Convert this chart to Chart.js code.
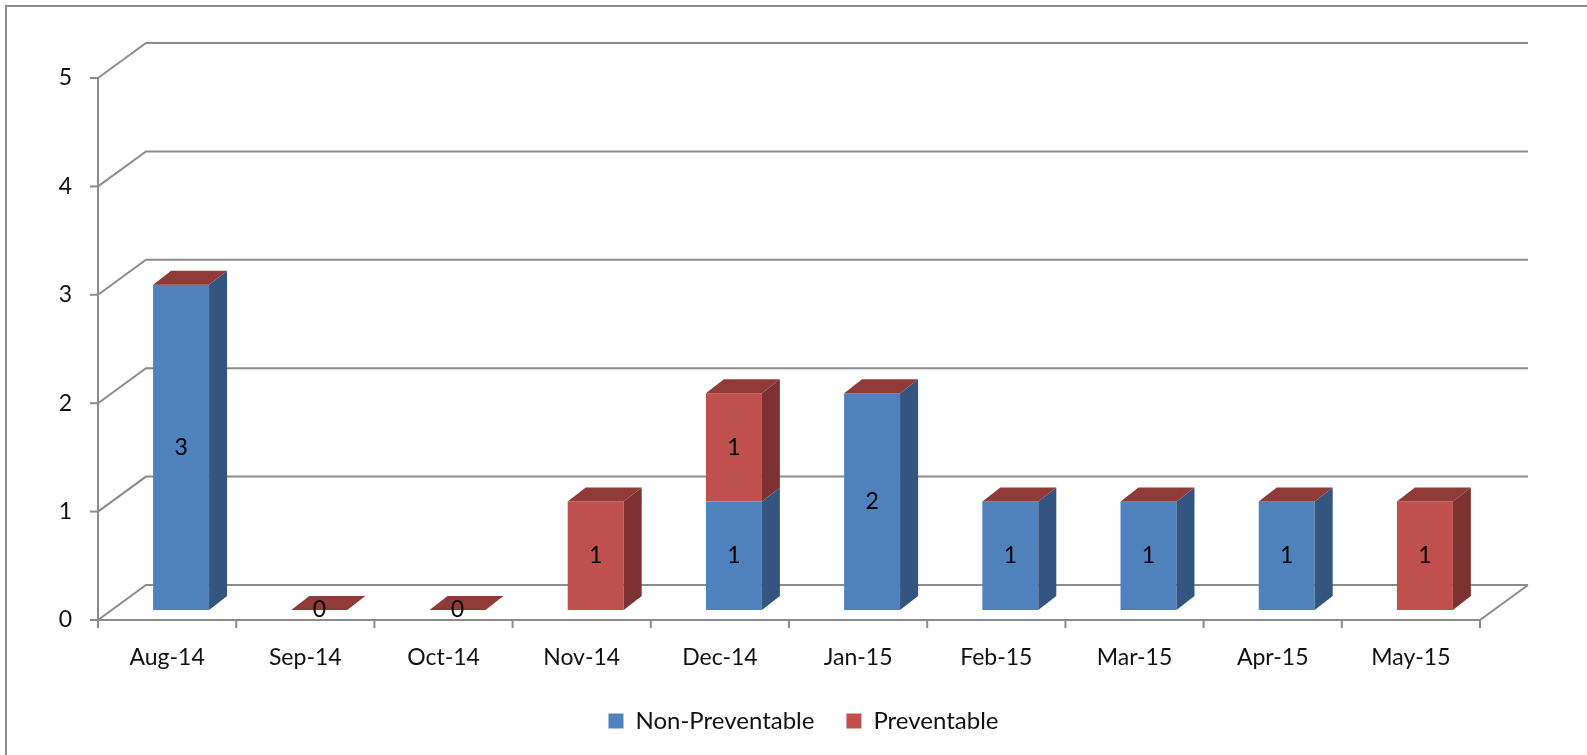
<!DOCTYPE html>
<html>
<head>
<meta charset="utf-8">
<script src="https://cdn.jsdelivr.net/npm/chart.js@4.4.1/dist/chart.umd.min.js"></script>
<style>
  html, body { margin: 0; padding: 0; background: #fff; }
  #wrap { width: 1587px; height: 755px; position: relative; }
</style>
</head>
<body>
<div id="wrap"><canvas id="chart"></canvas></div>
<script>
// categories + series
const months = ['Aug-14', 'Sep-14', 'Oct-14', 'Nov-14', 'Dec-14', 'Jan-15', 'Feb-15', 'Mar-15', 'Apr-15', 'May-15'];
const nonPreventable = [3, 0, 0, 0, 1, 2, 1, 1, 1, 0];
const preventable = [0, 0, 0, 1, 1, 0, 0, 0, 0, 1];
const yTicks = [0, 1, 2, 3, 4, 5];

const FONT = "Lato, 'Open Sans', sans-serif";
Chart.defaults.font.family = FONT;
Chart.defaults.color = '#111';

// depth offsets relative to the bar front plane
const FRONT = { dx: -14, dy: 10 };   // floor front edge / axis plane
const WALL = { dx: 34, dy: -25 };    // back wall
const BAR_DEPTH = { dx: 18, dy: -14 };
const GRID = '#8c8c8c';

const sideColors = ['#34557f', '#7d3130'];
const topColors = ['#5f86bb', '#913b38'];

const threeD = {
  id: 'threeD',
  beforeDraw(chart) {
    const ctx = chart.ctx;
    ctx.save();
    ctx.strokeStyle = GRID;
    ctx.lineWidth = 2;
    ctx.strokeRect(6, 6, chart.width + 20, chart.height + 20);
    ctx.restore();
  },
  beforeDatasetsDraw(chart) {
    const ctx = chart.ctx;
    const x = chart.scales.x, y = chart.scales.y;
    const left = x.left, right = x.right;
    ctx.save();
    ctx.strokeStyle = GRID;
    ctx.lineWidth = 2;
    // back wall + left wall gridlines
    yTicks.forEach(v => {
      const py = y.getPixelForValue(v);
      ctx.beginPath();
      ctx.moveTo(left + FRONT.dx, py + FRONT.dy);
      ctx.lineTo(left + WALL.dx, py + WALL.dy);
      ctx.lineTo(right + WALL.dx, py + WALL.dy);
      ctx.stroke();
      // tick mark on the front axis
      ctx.beginPath();
      ctx.moveTo(left + FRONT.dx - 8, py + FRONT.dy);
      ctx.lineTo(left + FRONT.dx, py + FRONT.dy);
      ctx.stroke();
    });
    // front vertical axis
    ctx.beginPath();
    ctx.moveTo(left + FRONT.dx, y.getPixelForValue(5) + FRONT.dy);
    ctx.lineTo(left + FRONT.dx, y.getPixelForValue(0) + FRONT.dy);
    ctx.stroke();
    // floor front edge and right edge
    const by = y.getPixelForValue(0);
    ctx.beginPath();
    ctx.moveTo(left + FRONT.dx, by + FRONT.dy);
    ctx.lineTo(right + FRONT.dx, by + FRONT.dy);
    ctx.lineTo(right + WALL.dx, by + WALL.dy);
    ctx.stroke();
    // category tick marks
    const step = (right - left) / months.length;
    for (let i = 0; i <= months.length; i++) {
      const px = left + step * i + FRONT.dx;
      ctx.beginPath();
      ctx.moveTo(px, by + FRONT.dy);
      ctx.lineTo(px, by + FRONT.dy + 8);
      ctx.stroke();
    }
    ctx.restore();
  },
  afterDatasetsDraw(chart) {
    const ctx = chart.ctx;
    const n = chart.data.datasets.length;
    ctx.save();
    // side faces, then the top face of the stack
    for (let i = 0; i < months.length; i++) {
      chart.data.datasets.forEach((ds, d) => {
        const bar = chart.getDatasetMeta(d).data[i];
        const l = bar.x - bar.width / 2, r = bar.x + bar.width / 2;
        const top = Math.min(bar.y, bar.base), base = Math.max(bar.y, bar.base);
        if (base - top > 0.5) {
          ctx.fillStyle = sideColors[d];
          ctx.beginPath();
          ctx.moveTo(r, base);
          ctx.lineTo(r + BAR_DEPTH.dx, base + BAR_DEPTH.dy);
          ctx.lineTo(r + BAR_DEPTH.dx, top + BAR_DEPTH.dy);
          ctx.lineTo(r, top);
          ctx.closePath();
          ctx.fill();
        }
        if (d === n - 1) {
          ctx.fillStyle = topColors[d];
          ctx.beginPath();
          ctx.moveTo(l, top);
          ctx.lineTo(l + BAR_DEPTH.dx, top + BAR_DEPTH.dy);
          ctx.lineTo(r + BAR_DEPTH.dx, top + BAR_DEPTH.dy);
          ctx.lineTo(r, top);
          ctx.closePath();
          ctx.fill();
        }
      });
    }
    // data labels (zeros only where the whole column is empty)
    ctx.fillStyle = '#000';
    ctx.font = '23px ' + FONT;
    ctx.textAlign = 'center';
    ctx.textBaseline = 'middle';
    chart.data.datasets.forEach((ds, d) => {
      chart.getDatasetMeta(d).data.forEach((bar, i) => {
        const v = ds.data[i];
        const total = nonPreventable[i] + preventable[i];
        if (v === 0 && (d === 0 || total > 0)) return;
        ctx.fillText(String(v), bar.x, (bar.y + bar.base) / 2);
      });
    });
    ctx.restore();
  }
};

new Chart(document.getElementById('chart'), {
  type: 'bar',
  data: {
    labels: months,
    datasets: [
      { label: 'Non-Preventable', data: nonPreventable, backgroundColor: '#4f81bd' },
      { label: 'Preventable', data: preventable, backgroundColor: '#c0504d' }
    ]
  },
  options: {
    responsive: true,
    maintainAspectRatio: false,
    animation: false,
    events: [],
    layout: { padding: { left: 20, right: 0, top: 68, bottom: 12 } },
    plugins: {
      tooltip: { enabled: false },
      legend: {
        position: 'bottom',
        labels: {
          boxWidth: 15,
          boxHeight: 15,
          padding: 32,
          color: '#111',
          font: { size: 24 }
        }
      }
    },
    datasets: { bar: { categoryPercentage: 1, barPercentage: 0.405 } },
    scales: {
      x: {
        stacked: true,
        grid: { display: false, drawTicks: false },
        border: { display: false },
        ticks: { padding: 34, labelOffset: FRONT.dx, font: { size: 23 }, color: '#111', maxRotation: 0 },
        afterFit(scale) { scale.height = 67; }
      },
      y: {
        stacked: true,
        min: 0,
        max: 5,
        grid: { display: false, drawTicks: false },
        border: { display: false },
        ticks: { stepSize: 1, padding: 40, labelOffset: FRONT.dy, font: { size: 23 }, color: '#111' },
        afterFit(scale) { scale.width = 92; }
      },
      // empty right axis reserves the space taken by the back wall depth
      yRight: {
        position: 'right',
        display: true,
        grid: { display: false, drawTicks: false },
        border: { display: false },
        ticks: { display: false },
        afterFit(scale) { scale.width = 93; }
      }
    }
  },
  plugins: [threeD]
});
</script>
</body>
</html>
